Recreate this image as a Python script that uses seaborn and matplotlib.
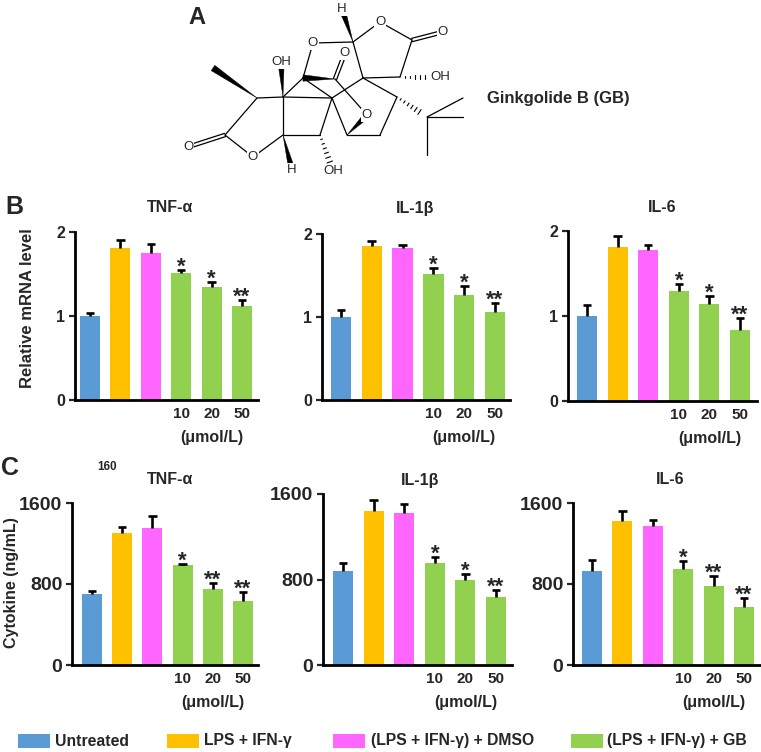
import numpy as np
import matplotlib
matplotlib.use('Agg')
import matplotlib.pyplot as plt
from matplotlib.patches import Polygon, Rectangle
import seaborn as sns

sns.set_style('white')
plt.rcParams['font.family'] = ['Liberation Sans', 'DejaVu Sans']
plt.rcParams['font.weight'] = 'bold'

W, H = 761, 752

groups = ['Untreated', 'LPS + IFN-γ', '(LPS + IFN-γ) + DMSO', 'GB 10', 'GB 20', 'GB 50']
legend_labels = ['Untreated', 'LPS + IFN-γ', '(LPS + IFN-γ) + DMSO', '(LPS + IFN-γ) + GB']
dose_labels = ['', '', '', '10', '20', '50']
colors = ['#5B9BD5', '#FFC000', '#FF66FF', '#92D050', '#92D050', '#92D050']
legend_colors = ['#5B9BD5', '#FFC000', '#FF66FF', '#92D050']

# B: relative mRNA level
mrna_tnf = [1.00, 1.81, 1.75, 1.51, 1.34, 1.12]
mrna_tnf_err = [0.04, 0.09, 0.11, 0.04, 0.06, 0.07]
mrna_il1b = [1.00, 1.86, 1.83, 1.52, 1.26, 1.06]
mrna_il1b_err = [0.09, 0.05, 0.04, 0.07, 0.11, 0.11]
mrna_il6 = [1.00, 1.81, 1.78, 1.29, 1.14, 0.83]
mrna_il6_err = [0.13, 0.13, 0.05, 0.09, 0.10, 0.15]

# C: cytokine (ng/mL)
cyto_tnf = [703, 1305, 1349, 991, 752, 636]
cyto_tnf_err = [26, 60, 125, 10, 56, 83]
cyto_il1b = [879, 1443, 1419, 951, 795, 633]
cyto_il1b_err = [72, 100, 87, 62, 56, 69]
cyto_il6 = [932, 1426, 1374, 952, 785, 572]
cyto_il6_err = [101, 98, 59, 72, 98, 92]

stars_b = [['', '', '', '*', '*', '**'], ['', '', '', '*', '*', '**'], ['', '', '', '*', '*', '**']]
stars_c = [['', '', '', '*', '**', '**'], ['', '', '', '*', '*', '**'], ['', '', '', '*', '**', '**']]

titles = ['TNF-α', 'IL-1β', 'IL-6']

fig = plt.figure(figsize=(W / 100, H / 100), dpi=100)
bg = fig.add_axes([0, 0, 1, 1])
bg.set_xlim(0, W)
bg.set_ylim(H, 0)
bg.axis('off')


def px_axes(spine_x, first_bar, end_x, y0, ytop, spacing):
    ax = fig.add_axes([spine_x / W, 1 - y0 / H, (end_x - spine_x) / W, (y0 - ytop) / H])
    ax.set_facecolor('none')
    ax._xl = ((spine_x - first_bar) / spacing, (end_x - first_bar) / spacing)
    return ax


def bar_panel(ax, vals, errs, stars, ymax, yticks, ytick_size):
    sns.barplot(x=groups, y=vals, hue=groups, order=groups, hue_order=groups,
                palette=colors, legend=False, width=0.66, saturation=1,
                edgecolor='none', ax=ax)
    x = np.arange(len(vals))
    v = np.array(vals, dtype=float)
    e = np.array(errs, dtype=float)
    ax.vlines(x, v, v + e, color='black', lw=1.9, zorder=3)
    ax.hlines(v + e, x - 0.14, x + 0.14, color='black', lw=1.9, zorder=3)
    for xi, top, s in zip(x, v + e, stars):
        if s:
            ax.annotate(s, (xi, top), xytext=(0, -5.5), textcoords='offset points',
                        ha='center', va='bottom', fontsize=16, fontweight='bold')
    ax.set_xlim(*ax._xl)
    ax.set_ylim(0, ymax)
    ax.set_yticks(yticks)
    ax.set_yticklabels([str(t) for t in yticks], fontsize=ytick_size, fontweight='bold')
    ax.set_xticks(x)
    ax.set_xticklabels(dose_labels, fontsize=11, fontweight='bold')
    ax.tick_params(axis='x', length=0, pad=5)
    ax.tick_params(axis='y', direction='out', length=4, width=1.6, pad=3, left=True)
    ax.set_xlabel('')
    ax.set_ylabel('')
    for side in ['top', 'right']:
        ax.spines[side].set_visible(False)
    for side in ['left', 'bottom']:
        ax.spines[side].set_linewidth(2)
        ax.spines[side].set_color('black')
    ax.annotate('(μmol/L)', xy=(4, 0), xycoords=('data', 'axes fraction'),
                xytext=(0, -27), textcoords='offset points',
                ha='center', va='center', fontsize=11.5, fontweight='bold')


# panel B
b_layout = [(75, 90, 258, 400, 232, 30.4), (322, 341, 510, 400, 234, 30.8), (568, 587, 757, 401, 231, 30.6)]
b_vals = [(mrna_tnf, mrna_tnf_err), (mrna_il1b, mrna_il1b_err), (mrna_il6, mrna_il6_err)]
for lay, (vals, errs), st in zip(b_layout, b_vals, stars_b):
    ax = px_axes(*lay)
    bar_panel(ax, vals, errs, st, 2, [0, 1, 2], 11.5)

# panel C
c_layout = [(72, 92, 258, 665, 503, 30.2), (323, 343, 512, 665, 494, 30.6), (573, 592, 760, 665, 503, 30.4)]
c_vals = [(cyto_tnf, cyto_tnf_err), (cyto_il1b, cyto_il1b_err), (cyto_il6, cyto_il6_err)]
for lay, (vals, errs), st in zip(c_layout, c_vals, stars_c):
    ax = px_axes(*lay)
    bar_panel(ax, vals, errs, st, 1600, [0, 800, 1600], 14)

# titles and labels
for t, xb, xc in zip(titles, [170, 415, 662], [170, 420, 670]):
    bg.text(xb, 208, t, ha='center', va='center', fontsize=11.5, fontweight='bold')
    bg.text(xc, 480, t, ha='center', va='center', fontsize=11.5, fontweight='bold')

bg.text(28, 308, 'Relative mRNA level', rotation=90, ha='center', va='center', fontsize=12, fontweight='bold')
bg.text(12, 583, 'Cytokine (ng/mL)', rotation=90, ha='center', va='center', fontsize=11.5, fontweight='bold')
bg.text(197, 17, 'A', ha='center', va='center', fontsize=17, fontweight='bold')
bg.text(14, 207, 'B', ha='center', va='center', fontsize=18, fontweight='bold')
bg.text(10, 468, 'C', ha='center', va='center', fontsize=18, fontweight='bold')
bg.text(107, 467, '160', ha='center', va='center', fontsize=8.5, fontweight='bold')
bg.text(487, 98, 'Ginkgolide B (GB)', ha='left', va='center', fontsize=12, fontweight='bold')

# legend
for lab, col, px, tx in zip(legend_labels, legend_colors, [18, 167, 333, 571], [55, 204, 371, 607]):
    bg.add_patch(Rectangle((px, 734), 32, 14, fc=col, ec='none'))
    bg.text(tx, 741, lab, ha='left', va='center', fontsize=11.3, fontweight='bold')

# structure of ginkgolide B (drawing)
atoms = {
    'H1': (342, 9), 'C1': (353, 42), 'Or': (380, 22), 'C2': (412, 40), 'O2': (443, 32),
    'C3': (400, 77), 'OH3': (440, 77), 'C4': (363, 78), 'Ol': (313, 43), 'C5': (303, 78),
    'C6': (335, 79), 'O6': (345, 53), 'C7': (332, 98), 'C8': (283, 97), 'OH8': (281, 62),
    'C9': (257, 98), 'Me': (213, 68), 'C10': (225, 135), 'O10': (188, 147), 'O11': (253, 157),
    'C12': (283, 135), 'H12': (292, 170), 'C13': (320, 135), 'OH13': (333, 171),
    'C14': (347, 135), 'O15': (367, 115), 'C16': (380, 135), 'C17': (397, 97),
    'C18': (427, 117), 'T1': (463, 98), 'T2': (463, 117), 'T3': (427, 155),
}
labels = {'H1': 'H', 'Or': 'O', 'O2': 'O', 'OH3': 'OH', 'Ol': 'O', 'O6': 'O', 'OH8': 'OH',
          'O10': 'O', 'O11': 'O', 'H12': 'H', 'OH13': 'OH', 'O15': 'O'}
bonds = [
    ('C1', 'H1', 'w'), ('C1', 'Or', 's'), ('Or', 'C2', 's'), ('C2', 'O2', 'd'), ('C2', 'C3', 's'),
    ('C3', 'OH3', 'h'), ('C3', 'C4', 's'), ('C4', 'C1', 's'), ('C1', 'Ol', 's'), ('Ol', 'C5', 's'),
    ('C6', 'C5', 'w'), ('C6', 'O6', 'd'), ('C6', 'O15', 's'), ('C5', 'C7', 's'), ('C5', 'C8', 's'),
    ('C7', 'C4', 's'), ('C7', 'C14', 's'), ('C7', 'C8', 's'), ('C14', 'O15', 'w'),
    ('C14', 'C16', 's'), ('C16', 'C17', 's'), ('C17', 'C4', 's'), ('C17', 'C18', 'h'),
    ('C18', 'T1', 's'), ('C18', 'T2', 's'), ('C18', 'T3', 's'), ('C8', 'OH8', 'w'),
    ('C8', 'C9', 's'), ('C8', 'C12', 's'), ('C9', 'Me', 'w'), ('C9', 'C10', 's'),
    ('C10', 'O10', 'd'), ('C10', 'O11', 's'), ('O11', 'C12', 's'), ('C12', 'H12', 'w'),
    ('C12', 'C13', 's'), ('C13', 'C7', 's'), ('C13', 'OH13', 'h'),
]
for a, b, kind in bonds:
    p = np.array(atoms[a], dtype=float)
    q = np.array(atoms[b], dtype=float)
    d = q - p
    n = np.array([-d[1], d[0]]) / np.hypot(*d)
    if kind == 's':
        bg.plot([p[0], q[0]], [p[1], q[1]], color='black', lw=0.9, zorder=2)
    elif kind == 'd':
        for off in (-1.7, 1.7):
            bg.plot([p[0] + n[0] * off, q[0] + n[0] * off], [p[1] + n[1] * off, q[1] + n[1] * off],
                    color='black', lw=0.9, zorder=2)
    elif kind == 'w':
        bg.add_patch(Polygon([p, q + n * 3.2, q - n * 3.2], closed=True, fc='black', ec='black', lw=0.3, zorder=2))
    elif kind == 'h':
        for t in np.linspace(0.12, 0.75, 6):
            c = p + d * t
            hw = 0.5 + 3.2 * t
            bg.plot([c[0] - n[0] * hw, c[0] + n[0] * hw], [c[1] - n[1] * hw, c[1] + n[1] * hw],
                    color='black', lw=0.8, zorder=2)
for k, lab in labels.items():
    x, y = atoms[k]
    bg.text(x, y, lab, ha='center', va='center', fontsize=9.5, fontweight='normal', zorder=4,
            bbox=dict(boxstyle='square,pad=0.05', fc='white', ec='none'))

fig.savefig('out.png', dpi=100)
